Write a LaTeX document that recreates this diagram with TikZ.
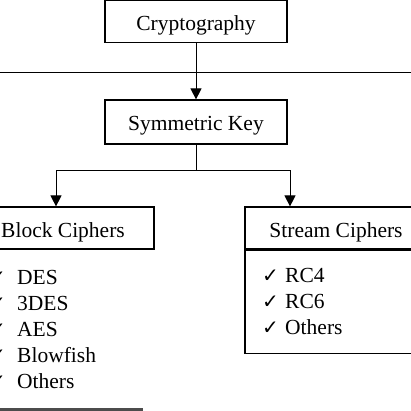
\documentclass[tikz,border=0pt]{standalone}
\usepackage{fontspec}
\setmainfont{Liberation Serif}
\newfontfamily\checkfont{DejaVu Sans}
\usetikzlibrary{arrows.meta}

\tikzset{
	box/.style={draw, line width=1.2pt, minimum width=182pt, inner sep=0pt, text height=18pt, text depth=0pt, font=\fontsize{21.5}{24}\selectfont},
	item/.style={anchor=west, inner sep=0pt, font=\fontsize{21.5}{24}\selectfont},
	arr/.style={line width=1pt, -{Triangle[length=11pt,width=11pt]}}
}
\newcommand{\tick}[1][23pt]{\makebox[#1][l]{\checkfont\fontsize{20}{22}\selectfont ✓}}

\begin{document}
\begin{tikzpicture}[x=1pt,y=-1pt]
	\useasboundingbox (0,0) rectangle (411,411);

	\node[box, minimum height=42pt] (crypto) at (196,21.5) {Cryptography};
	\node[box, minimum height=44pt] (symkey) at (196,122) {Symmetric Key};
	\node[box, minimum height=42pt] (block) at (63,228) {Block Ciphers};
	\node[box, minimum height=42pt] (stream) at (336,228) {Stream Ciphers};
	\node[box, minimum height=103pt, anchor=north] (streamlist) at (stream.south) {};

	% page rule
	\draw[line width=1pt] (0,73) -- (411,73);

	\draw[arr] (crypto.south) -- (symkey.north);
	\coordinate (split) at (196,171);
	\draw[line width=1pt] (symkey.south) -- (split);
	\draw[arr] (split) -| ([xshift=-7pt]block.north);
	\draw[arr] (split) -| ([xshift=-46pt]stream.north);

	% lists
	\foreach \txt [count=\i] in {DES,3DES,AES,Blowfish,Others}
		\node[item] (blk\i) at (-11,{251+26*\i}) {\tick[28pt]\txt};
	\foreach \txt [count=\i] in {RC4,RC6,Others}
		\node[item] (str\i) at (262,{249+26*\i}) {\tick\txt};

	\draw[line width=3pt, black!70] (-5,409) -- (143,409);
\end{tikzpicture}
\end{document}
